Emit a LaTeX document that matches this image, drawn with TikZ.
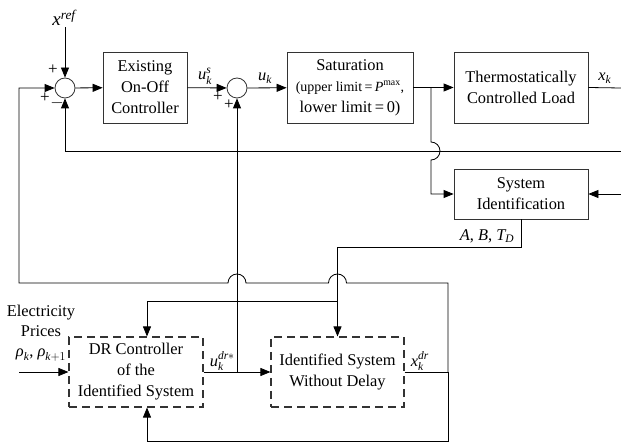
\documentclass[tikz,border=0pt]{standalone}
\usepackage{amsmath}
\usepackage{fontspec}
\setmainfont{Liberation Serif}
\usetikzlibrary{arrows.meta,positioning,calc}
\newcommand{\mi}[1]{\textit{#1}}
\tikzset{
  box/.style={rectangle, draw=black!80, line width=0.8pt, align=center,
              inner sep=2pt, font=\fontsize{16.4}{21}\selectfont},
  dashbox/.style={box, line width=1.1pt, dash pattern=on 8pt off 5pt},
  sumnode/.style={circle, draw=black!80, line width=0.8pt, minimum size=20pt, inner sep=0pt},
  flow/.style={-{Triangle[length=10pt,width=8pt]}, line width=0.8pt},
  wire/.style={line width=0.8pt},
  flowlabel/.style={font=\fontsize{16.4}{20}\selectfont, inner sep=1pt},
  sign/.style={font=\fontsize{17}{17}\selectfont, inner sep=0pt},
}

\begin{document}
\begin{tikzpicture}[x=1pt, y=-1pt]
  \useasboundingbox (0,0) rectangle (621,443);
  % top row
  \node[flowlabel, font=\fontsize{19}{20}\selectfont] (xref) at (64,18) {$\mi{x}^{\mi{ref}}$};
  \node[sumnode] (sumA) at (65,88) {};
  \node[box, minimum width=84pt, minimum height=71pt] (onoff) at (145,87.5) {Existing\\On-Off\\Controller};
  \node[sumnode] (sumB) at (237,88) {};
  \node[box, minimum width=126pt, minimum height=71pt] (sat) at (350,87.5)
    {Saturation\\\fontsize{14}{19}\selectfont(upper limit\,=\,$\mi{P}^{\text{max}}$,\\lower limit\,=\,0)};
  \node[box, minimum width=134pt, minimum height=71pt] (tcl) at (521,87.5) {Thermostatically\\Controlled Load};
  \node[box, minimum width=134pt, minimum height=50pt] (sysid) at (521,194) {System\\Identification};
  % bottom row
  \node[dashbox, minimum width=134pt, minimum height=70pt] (dr) at (136,372) {DR Controller\\of the\\Identified System};
  \node[dashbox, minimum width=133pt, minimum height=70pt] (idsys) at (337.5,372) {Identified System\\Without Delay};
  \node[flowlabel, align=center] (price) at (41,333) {Electricity\\Prices\\$\mi{ρ}_{\mi{k}}$, $\mi{ρ}_{\mi{k}+1}$};
  \node[flowlabel] (abt) at (487,236) {$\mi{A}$, $\mi{B}$, $\mi{T}_{\mi{D}}$};
  % signs
  \node[sign] (pA1) at (53,70) {+};
  \node[sign] (pA2) at (45,98) {+};
  \node[sign] (mA3) at (57,103) {$-$};
  \node[sign] (pB1) at (218,97) {+};
  \node[sign] (pB2) at (229,105) {+};
  % junctions and free ends
  \coordinate (split) at (431,88);
  \coordinate (xkout) at (621,88);
  \coordinate (fbR) at (621,151);
  \coordinate (sidin) at (621,194);
  \coordinate (tap) at (337.5,301);
  \coordinate (jdr) at (448,372);
  \coordinate (loopTR) at (448,283);
  \coordinate (loopTL) at (19,283);
  \coordinate (loopBR) at (448,441);
  \coordinate (pricein) at (19,372);
  % connectors
  \draw[flow] (xref.south -| sumA) -- (sumA.north);
  \draw[flow] (sumA) -- (onoff);
  \draw[flow] (onoff) -- node[flowlabel, above=2pt, pos=0.45] {$\mi{u}_{\mi{k}}^{\mi{s}}$} (sumB);
  \draw[flow] (sumB) -- node[flowlabel, above=3pt, pos=0.45] {$\mi{u}_{\mi{k}}$} (sat);
  \draw[flow] (sat) -- (tcl);
  \draw[wire] (tcl.east) -- node[flowlabel, above=3pt] {$\mi{x}_{\mi{k}}$} (xkout);
  \draw[flow] (fbR) -- (sumA |- fbR) -- (sumA.south);
  \draw[flow] (split) -- ($(split |- fbR)+(0,-9)$) arc[start angle=90, end angle=-90, radius=9pt]
    -- (split |- sysid.west) -- (sysid.west);
  \draw[flow] (sidin) -- (sysid.east);
  \draw[flow] (sysid.south) -- ++(0,28) -| (idsys.north);
  \draw[flow] (tap) -| ($(dr.north)+(11,0)$);
  \draw[flow] (dr.east) -- node[flowlabel, above, pos=0.28] {$\mi{u}_{\mi{k}}^{\mi{dr}*}$} (idsys.west);
  \draw[flow] (sumB |- dr.east) -- (sumB.south);
  \draw[wire] (idsys.east) -- node[flowlabel, above, pos=0.35] {$\mi{x}_{\mi{k}}^{\mi{dr}}$} (jdr);
  \draw[flow] (jdr) -- (loopTR) -- ($(idsys.north |- loopTR)+(9,0)$) arc[start angle=0, end angle=180, radius=9pt]
    -- ($(sumB |- loopTR)+(9,0)$) arc[start angle=0, end angle=180, radius=9pt]
    -- (loopTL) -- (loopTL |- sumA) -- (sumA.west);
  \draw[flow] (jdr) -- (loopBR) -| ($(dr.south)+(11,0)$);
  \draw[flow] (pricein) -- (dr.west);
\end{tikzpicture}
\end{document}
